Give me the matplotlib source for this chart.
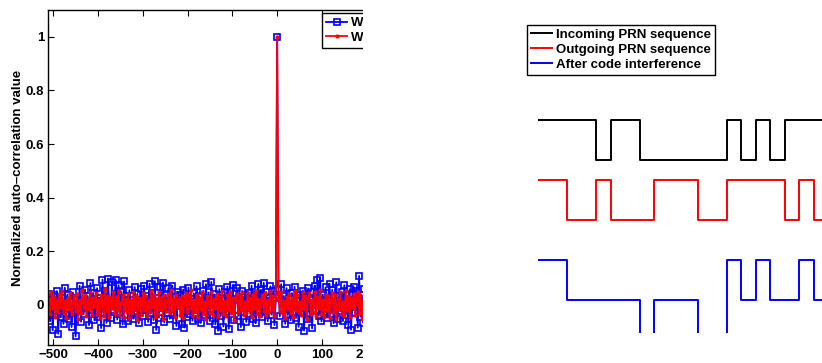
import numpy as np
import matplotlib.pyplot as plt
from matplotlib.patches import Rectangle
from matplotlib.legend_handler import HandlerLine2D

plt.rcParams['font.family'] = ['Liberation Sans', 'DejaVu Sans']
plt.rcParams['font.weight'] = 'bold'
plt.rcParams['font.size'] = 9.5

# auto-correlation lags (every 3rd lag, visible part of the plot)
lags = np.arange(-510, 202, 3)

# normalized auto-correlation, blue squares
acorr_blue = [
    0.042, -0.061, 0.018, -0.095, 0.035, -0.022, 0.051, -0.108, 0.012, -0.047,
    0.027, -0.071, 0.064, -0.015, 0.038, -0.054, 0.009, -0.083, 0.046, -0.029,
    -0.118, 0.022, -0.040, 0.071, -0.063, 0.016, -0.035, 0.057, -0.009, 0.033,
    -0.076, 0.081, -0.021, 0.044, -0.058, 0.013, 0.062, -0.044, 0.026, -0.087,
    0.094, -0.032, 0.052, -0.067, 0.098, 0.007, -0.049, 0.085, -0.018, 0.039,
    0.092, -0.055, 0.073, -0.026, 0.048, -0.073, 0.087, -0.012, 0.031, -0.061,
    0.054, -0.038, 0.019, -0.052, 0.066, -0.024, 0.041, -0.069, 0.011, 0.058,
    -0.043, 0.072, -0.017, 0.034, -0.064, 0.079, -0.031, 0.045, -0.057, 0.088,
    -0.094, 0.024, -0.048, 0.067, -0.011, 0.083, -0.066, 0.037, -0.029, 0.061,
    -0.052, 0.015, 0.071, -0.039, 0.028, -0.079, 0.049, -0.006, 0.036, -0.072,
    0.057, -0.085, 0.021, -0.046, 0.064, -0.033, 0.012, -0.059, 0.043, -0.018,
    0.069, -0.054, 0.031, -0.068, 0.008, 0.052, -0.037, 0.077, -0.023, 0.046,
    -0.061, 0.085, -0.014, 0.039, -0.073, 0.026, -0.097, 0.058, -0.042, 0.017,
    -0.081, 0.049, -0.027, 0.068, -0.089, 0.034, -0.011, 0.074, -0.056, 0.022,
    0.063, -0.041, 0.018, -0.083, 0.051, -0.025, 0.037, -0.064, 0.009, 0.045,
    -0.034, 0.071, -0.052, 0.027, -0.069, 0.041, 0.078, -0.019, 0.056, -0.045,
    0.082, -0.028, 0.047, -0.061, 0.013, 0.069, -0.037, 0.052, -0.076, 0.024,
    1.0,
    0.058, -0.043, 0.077, -0.016, 0.033, -0.071, 0.062, -0.038, 0.021,
    -0.058, 0.044, -0.026, 0.067, -0.049, 0.015, -0.082, 0.036, -0.011, 0.053,
    -0.096, 0.029, -0.054, 0.061, -0.035, 0.018, -0.088, 0.047, 0.072, -0.023,
    0.094, -0.041, 0.101, -0.062, 0.038, -0.017, 0.065, -0.048, 0.027, 0.079,
    -0.033, 0.056, -0.069, 0.012, 0.084, -0.052, 0.031, -0.024, 0.048, -0.061,
    0.073, -0.037, 0.019, -0.076, 0.058, -0.093, 0.041, 0.066, -0.029, 0.052,
    -0.085, 0.108, -0.044, 0.035, -0.067, 0.059, -0.021, 0.046,
]

# normalized auto-correlation, red dots
acorr_red = [
    0.021, -0.034, 0.047, -0.012, 0.028, -0.045, 0.016, -0.027, 0.039, -0.008,
    0.052, -0.031, 0.014, -0.049, 0.026, -0.017, 0.043, -0.036, 0.009, 0.033,
    -0.024, 0.041, -0.052, 0.018, -0.029, 0.055, -0.011, 0.035, -0.043, 0.022,
    -0.015, 0.048, -0.038, 0.027, -0.006, 0.044, -0.033, 0.019, -0.051, 0.036,
    0.012, -0.041, 0.058, -0.022, 0.031, -0.047, 0.024, -0.013, 0.046, -0.035,
    0.029, -0.018, 0.053, -0.039, 0.007, 0.037, -0.044, 0.021, -0.026, 0.042,
    -0.048, 0.017, -0.031, 0.049, -0.014, 0.032, -0.055, 0.026, 0.011, -0.037,
    0.045, -0.021, 0.034, -0.042, 0.015, -0.028, 0.051, -0.009, 0.038, -0.046,
    0.023, -0.035, 0.047, -0.016, 0.029, -0.053, 0.036, -0.024, 0.013, 0.041,
    -0.032, 0.054, -0.019, 0.027, -0.045, 0.038, -0.008, 0.022, -0.039, 0.031,
    -0.049, 0.016, 0.043, -0.027, 0.035, -0.012, 0.056, -0.041, 0.019, -0.023,
    0.037, -0.044, 0.025, -0.015, 0.048, -0.036, 0.011, -0.052, 0.032, 0.006,
    -0.029, 0.046, -0.037, 0.021, -0.011, 0.039, -0.047, 0.028, -0.018, 0.052,
    -0.034, 0.014, -0.043, 0.036, -0.021, 0.049, -0.031, 0.024, -0.055, 0.018,
    0.041, -0.026, 0.033, -0.014, 0.047, -0.038, 0.009, -0.029, 0.044, -0.019,
    0.027, -0.046, 0.038, -0.012, 0.053, -0.033, 0.021, -0.041, 0.015, 0.036,
    -0.024, 0.045, -0.037, 0.018, -0.028, 0.051, -0.016, 0.034, -0.043, 0.026,
    1.0,
    0.039, -0.022, 0.047, -0.035, 0.013, -0.048, 0.029, -0.017, 0.042,
    -0.031, 0.024, -0.044, 0.052, -0.019, 0.035, -0.027, 0.011, -0.039, 0.046,
    -0.014, 0.031, -0.053, 0.022, 0.043, -0.036, 0.017, -0.025, 0.049, -0.042,
    0.028, -0.011, 0.055, -0.033, 0.019, -0.046, 0.038, -0.021, 0.034, -0.049,
    0.016, 0.044, -0.028, 0.037, -0.052, 0.023, -0.015, 0.048, -0.034, 0.012,
    -0.041, 0.053, -0.019, 0.031, -0.045, 0.026, -0.008, 0.042, -0.037, 0.021,
    0.047, -0.029, 0.035, -0.054, 0.018, -0.023, 0.039, -0.016,
]

left_labels = ['Without code interference', 'With code interference']
ytick_vals = [0, 0.2, 0.4, 0.6, 0.8, 1]
ytick_text = ['0', '0.2', '0.4', '0.6', '0.8', '1']

# PRN chip sequences for the right panel
incoming_chips = [1, 1, 1, 1, 0, 1, 1, 0, 0, 0, 0, 0, 0, 1, 0, 1, 0, 1, 1, 1]
outgoing_chips = [1, 1, 0, 0, 1, 0, 0, 0, 1, 1, 1, 0, 0, 1, 1, 1, 1, 0, 1, 0]
after_levels = [1, 1, 0, 0, 0, 0, 0, -1, 0, 0, 0, -1, -1, 1, 0, 1, 0, 0, 1, 0]
right_labels = ['Incoming PRN sequence', 'Outgoing PRN sequence',
                'After code interference']


class EndMarker(HandlerLine2D):
    # marker drawn near the right end of the legend line
    def get_xdata(self, legend, xdescent, ydescent, width, height, fontsize):
        xdata = np.linspace(-xdescent, width, 2)
        return xdata, [width - 0.2 * fontsize]


W, H = 822, 363
fig = plt.figure(figsize=(W / 100, H / 100), dpi=100)

# left panel
ax = fig.add_axes([48.3 / W, (H - 345) / H, (506 - 48.3) / W, (345 - 10) / H])
l1, = ax.plot(lags, acorr_blue, '-s', color='blue', lw=1.3, ms=4.4,
              mfc='none', mec='blue', mew=1.2, label=left_labels[0])
l2, = ax.plot(lags, acorr_red, '.-', color='red', lw=1.3, ms=4,
              label=left_labels[1])
ax.set_xlim(-511, 511)
ax.set_ylim(-0.15, 1.1)
ax.set_xticks(np.arange(-500, 501, 100))
ax.set_yticks(ytick_vals)
ax.set_yticklabels(ytick_text)
ax.tick_params(direction='in', top=True, right=True, length=4, width=0.8,
               labelsize=9.5, pad=3)
for s in ax.spines.values():
    s.set_linewidth(1.0)
ax.set_ylabel('Normalized auto\u2013correlation value', fontsize=9.5,
              fontweight='bold', labelpad=1)
leg = ax.legend(loc='upper left', bbox_to_anchor=(322 / W, 1 - 13 / H),
                bbox_transform=fig.transFigure, fancybox=False,
                edgecolor='black', framealpha=1, borderaxespad=0,
                borderpad=0.3, labelspacing=0.2, handlelength=1.6,
                handletextpad=0.3, numpoints=1,
                handler_map={l1: EndMarker(), l2: EndMarker()})
leg.get_frame().set_linewidth(1.0)

# white area clipping the left panel
fig.patches.append(Rectangle((363 / W, 0), 1 - 363 / W, 1,
                             transform=fig.transFigure, facecolor='white',
                             edgecolor='none', zorder=2))

# right panel
ax2 = fig.add_axes([538.3 / W, (H - 333) / H, (W - 538.3) / W, 323 / H])
ax2.set_zorder(3)
chip_x = np.arange(len(incoming_chips) + 1)
inc = [7 + 2 * c for c in incoming_chips]
out = [4 + 2 * c for c in outgoing_chips]
aft = [2 * v for v in after_levels]
ax2.step(chip_x, inc + inc[-1:], where='post', color='black', lw=1.4,
         label=right_labels[0])
ax2.step(chip_x, out + out[-1:], where='post', color='red', lw=1.4,
         label=right_labels[1])
ax2.step(chip_x, aft + aft[-1:], where='post', color='blue', lw=1.4,
         label=right_labels[2])
ax2.set_xlim(0, (W - 538.3) / 14.5)
ax2.set_ylim(-1.65, 14.5)
ax2.axis('off')
leg2 = ax2.legend(loc='upper left', bbox_to_anchor=(526.7 / W, 1 - 24.7 / H),
                  bbox_transform=fig.transFigure, fancybox=False,
                  edgecolor='black', framealpha=1, borderaxespad=0,
                  borderpad=0.3, labelspacing=0.2, handlelength=1.6,
                  handletextpad=0.3)
leg2.get_frame().set_linewidth(1.0)

fig.savefig('out.png', dpi=100)
